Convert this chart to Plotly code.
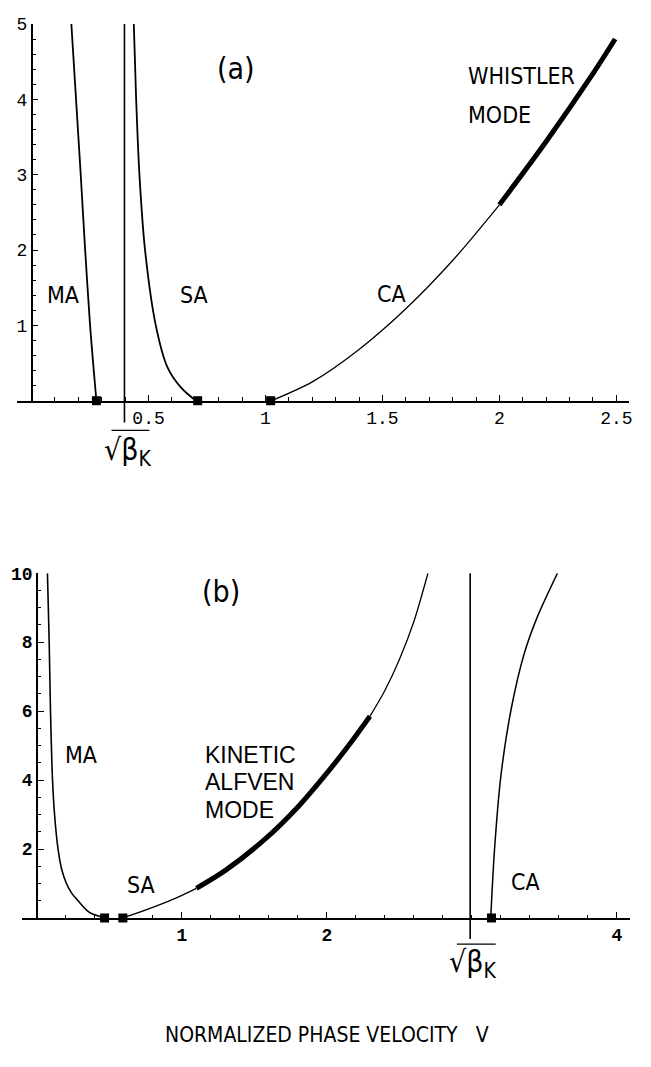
import plotly.graph_objects as go

# page body has an 8px default margin; the figure is sized to fit the 651x1067 window
OFF = 8
W, H = 651 - OFF, 1067 - OFF

# ---------------- data (panel a) ----------------
a_ma_x = [0.170, 0.190, 0.210, 0.229, 0.250, 0.263, 0.277]
a_ma_y = [5.0, 4.0, 3.0, 2.0, 1.0, 0.5, 0.0]
a_sa_x = [0.437, 0.447, 0.461, 0.485, 0.531, 0.580, 0.640, 0.702]
a_sa_y = [5.0, 4.0, 3.0, 2.0, 1.0, 0.45, 0.17, 0.0]
a_ca_thin_x = [1.026, 1.2, 1.4, 1.6, 1.8, 2.0]
a_ca_thin_y = [0.0, 0.25, 0.68, 1.22, 1.86, 2.60]
a_ca_thick_x = [2.0, 2.2, 2.4, 2.495]
a_ca_thick_y = [2.60, 3.44, 4.34, 4.80]
a_marker_x = [0.277, 0.710, 1.022]
a_marker_y = [0.0, 0.0, 0.0]
a_sqrt_beta = 0.397
a_xticks = [0.5, 1, 1.5, 2, 2.5]
a_xticktext = ["0.5", "1", "1.5", "2", "2.5"]
a_yticks = [1, 2, 3, 4, 5]
a_yticktext = ["1", "2", "3", "4", "5"]

# ---------------- data (panel b) ----------------
b_ma_x = [0.073, 0.085, 0.094, 0.108, 0.122, 0.146, 0.172, 0.204, 0.240, 0.284, 0.360, 0.467]
b_ma_y = [10.0, 8.0, 6.0, 4.0, 3.0, 2.0, 1.4, 1.0, 0.72, 0.5, 0.17, 0.0]
b_sa_thin_x = [0.593, 0.776, 0.95, 1.10]
b_sa_thin_y = [0.0, 0.27, 0.56, 0.86]
b_kaw_thick_x = [1.10, 1.30, 1.577, 1.80, 2.011, 2.15, 2.297]
b_kaw_thick_y = [0.86, 1.38, 2.30, 3.22, 4.26, 5.00, 5.85]
b_kaw_thin_x = [2.297, 2.40, 2.50, 2.60, 2.697]
b_kaw_thin_y = [5.85, 6.60, 7.50, 8.60, 10.0]
b_ca_x = [3.13, 3.155, 3.20, 3.27, 3.361, 3.45, 3.59]
b_ca_y = [0.0, 1.92, 4.12, 6.04, 7.67, 8.72, 10.0]
b_marker_x = [0.467, 0.593, 3.135]
b_marker_y = [0.0, 0.0, 0.0]
b_sqrt_beta = 2.988
b_xticks = [1, 2, 4]
b_xticktext = ["1", "2", "4"]
b_yticks = [2, 4, 6, 8, 10]
b_yticktext = ["2", "4", "6", "8", "10"]


def px(x):
    """window pixel x -> paper fraction"""
    return (x - OFF) / W


def py(y):
    """window pixel y -> paper fraction"""
    return 1 - (y - OFF) / H


NARROW = "DejaVu Sans Condensed, Liberation Sans Narrow, Arial Narrow, sans-serif"
SANS = "Liberation Sans, Arial, Helvetica, sans-serif"
MONO = "Liberation Mono, Courier New, monospace"

fig = go.Figure()


def curve(x, y, xa, ya, width):
    fig.add_trace(go.Scatter(x=x, y=y, xaxis=xa, yaxis=ya, mode="lines",
                             line=dict(color="black", width=width, shape="spline", smoothing=0.8),
                             hoverinfo="skip", showlegend=False, cliponaxis=False))


# panel a
curve(a_ma_x, a_ma_y, "x", "y", 1.8)
curve(a_sa_x, a_sa_y, "x", "y", 1.8)
curve(a_ca_thin_x, a_ca_thin_y, "x", "y", 1.3)
curve(a_ca_thick_x, a_ca_thick_y, "x", "y", 5)
fig.add_trace(go.Scatter(x=a_marker_x, y=a_marker_y, xaxis="x", yaxis="y", mode="markers",
                         marker=dict(symbol="square", size=9, color="black"),
                         showlegend=False, cliponaxis=False, hoverinfo="skip"))
# panel b
curve(b_ma_x, b_ma_y, "x2", "y2", 1.6)
curve(b_sa_thin_x, b_sa_thin_y, "x2", "y2", 1.3)
curve(b_kaw_thick_x, b_kaw_thick_y, "x2", "y2", 5)
curve(b_kaw_thin_x, b_kaw_thin_y, "x2", "y2", 1.3)
curve(b_ca_x, b_ca_y, "x2", "y2", 1.5)
fig.add_trace(go.Scatter(x=b_marker_x, y=b_marker_y, xaxis="x2", yaxis="y2", mode="markers",
                         marker=dict(symbol="square", size=9, color="black"),
                         showlegend=False, cliponaxis=False, hoverinfo="skip"))

# vertical sqrt(beta_K) lines
fig.add_shape(type="line", xref="x", yref="paper", x0=a_sqrt_beta, x1=a_sqrt_beta,
              y0=py(417), y1=py(15), line=dict(color="black", width=1.6))
fig.add_shape(type="line", xref="x2", yref="paper", x0=b_sqrt_beta, x1=b_sqrt_beta,
              y0=py(938), y1=py(569), line=dict(color="black", width=1.6))

axis_common = dict(showgrid=False, zeroline=False, showline=True, linecolor="black",
                   linewidth=1.5, ticks="inside", tickcolor="black", ticklen=6, tickwidth=1.2,
                   fixedrange=True)

fig.update_layout(
    width=W, height=H,
    margin=dict(l=0, r=0, t=0, b=0),
    paper_bgcolor="white", plot_bgcolor="white",
    showlegend=False,
    xaxis=dict(domain=[px(17), px(632)], range=[-0.0626, 2.5545], anchor="y",
               tickvals=a_xticks, ticktext=a_xticktext,
               tickfont=dict(family=MONO, size=18, color="black"),
               minor=dict(dtick=0.1, tick0=0, ticks="inside", ticklen=3.5, tickcolor="black"),
               **axis_common),
    yaxis=dict(domain=[py(395), py(15)], range=[0, 5], anchor="free", position=px(31.7),
               tickvals=a_yticks, ticktext=a_yticktext,
               tickfont=dict(family=MONO, size=18, color="black"),
               minor=dict(dtick=0.2, tick0=0, ticks="inside", ticklen=3.5, tickcolor="black"),
               **axis_common),
    xaxis2=dict(domain=[px(21.7), px(633.3)], range=[-0.105, 4.093], anchor="y2",
                tickvals=b_xticks, ticktext=b_xticktext,
                tickfont=dict(family=MONO, size=18, color="black", weight="bold"),
                minor=dict(dtick=0.2, tick0=0, ticks="inside", ticklen=3.5, tickcolor="black"),
                **axis_common),
    yaxis2=dict(domain=[py(916.7), py(569)], range=[0, 10], anchor="free", position=px(37),
                tickvals=b_yticks, ticktext=b_yticktext,
                tickfont=dict(family=MONO, size=18, color="black", weight="bold"),
                minor=dict(dtick=0.5, tick0=0, ticks="inside", ticklen=3.5, tickcolor="black"),
                **axis_common),
)


def label(text, x, y, size=23, family=NARROW, xanchor="center"):
    fig.add_annotation(text=text, x=px(x), y=py(y), xref="paper", yref="paper",
                       showarrow=False, xanchor=xanchor, yanchor="middle",
                       font=dict(family=family, size=size, color="black"))


# panel a labels
label("(a)", 236.7, 60, size=30)
label("MA", 63.3, 288)
label("SA", 195, 288)
label("CA", 393.3, 287)
label("WHISTLER", 468, 68, xanchor="left")
label("MODE", 468, 107, xanchor="left")
label("√β<sub>K</sub>", 128, 446, size=30)
fig.add_shape(type="line", xref="paper", yref="paper", x0=px(112), x1=px(150),
              y0=py(425), y1=py(425), line=dict(color="black", width=1.3))

# panel b labels
label("(b)", 221.7, 587, size=30)
label("MA", 81, 752)
label("KINETIC", 204, 752, size=23, family=SANS, xanchor="left")
label("ALFVEN", 204, 780, size=23, family=SANS, xanchor="left")
label("MODE", 204, 808, size=23, family=SANS, xanchor="left")
label("SA", 141.7, 883)
label("CA", 528.3, 880)
label("√β<sub>K</sub>", 475, 963, size=30)
fig.add_shape(type="line", xref="paper", yref="paper", x0=px(459), x1=px(498),
              y0=py(943), y1=py(943), line=dict(color="black", width=1.3))
label("NORMALIZED PHASE VELOCITY   V", 328, 1035, size=21)

fig.write_html("out.html")
